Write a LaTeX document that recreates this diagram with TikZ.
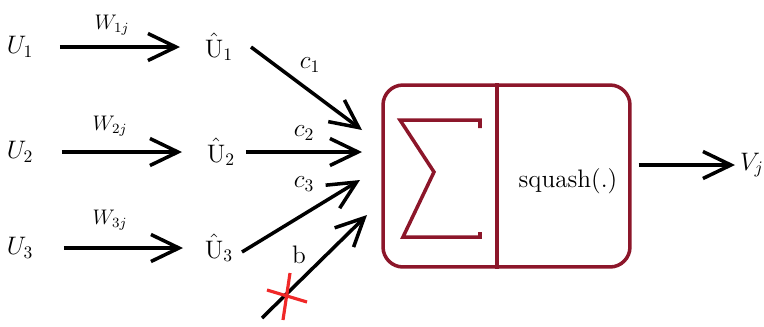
\documentclass[tikz,border=0pt]{standalone}
\usepackage{amsmath}
\usetikzlibrary{arrows.meta}
\definecolor{boxred}{RGB}{140,22,42}
\definecolor{cutred}{RGB}{240,40,40}

\begin{document}
\begin{tikzpicture}[
    x=0.02cm, y=-0.02cm,
    every node/.style={font=\Large, inner sep=1pt},
    arrow/.style={-{Straight Barb[length=5.6mm, width=5.4mm]}, line width=2pt, #1},
    arrow/.default=black,
    weight/.style={font=\large},
    unit/.style={rectangle, draw=boxred, line width=2pt, rounded corners=4mm,
                 minimum width=4.94cm, minimum height=3.64cm},
    sigma/.style={draw=boxred, line width=2pt},
    cut/.style={draw=cutred, line width=1.8pt}
]
\useasboundingbox (0,0) rectangle (764,326);

% Inputs and predictions
\node (U1) at (20,47) {$U_1$};
\node (U2) at (20,152) {$U_2$};
\node (U3) at (20,248) {$U_3$};
\node (Uh1) at (219,47) {$\hat{\mathrm{U}}_1$};
\node (Uh2) at (221,152) {$\hat{\mathrm{U}}_2$};
\node (Uh3) at (219,248) {$\hat{\mathrm{U}}_3$};

% Weight matrices
\draw[arrow, shorten <=8mm, shorten >=7.8mm] (U1.center) -- (Uh1.center);
\draw[arrow, shorten <=8.4mm, shorten >=7.8mm] (U2.center) -- (Uh2.center);
\draw[arrow, shorten <=8.8mm, shorten >=7.2mm] (U3.center) -- (Uh3.center);
\node[weight] (W1) at (112,25) {$W_{1j}$};
\node[weight] (W2) at (110,126) {$W_{2j}$};
\node[weight] (W3) at (110,220) {$W_{3j}$};

% Capsule unit
\node[unit] (box) at (506.5,176) {};
\coordinate (split) at (497,176);
\draw[sigma] (split |- box.north) -- (split |- box.south);
\draw[sigma, line join=miter] (480,128) -- (480,120) -- (400,120) -- (434,172)
    -- (403,237) -- (480,237) -- (480,232);
\node (squash) at (568,181) {squash(.)};

% Coupling coefficients
\coordinate (in1) at (362,130);
\coordinate (in2) at (362,152);
\coordinate (in3) at (360,180);
\coordinate (in4) at (367,215);
\coordinate (bstart) at (262,318);
\draw[arrow] ([xshift=0.64cm]Uh1.center) -- (in1);
\draw[arrow] ([xshift=0.5cm]Uh2.center) -- (in2);
\draw[arrow] ([xshift=0.46cm, yshift=-0.08cm]Uh3.center) -- (in3);
\draw[arrow] (bstart) -- (in4);
\node (c1) at (310,65) {$c_1$};
\node (c2) at (304,133) {$c_2$};
\node (c3) at (304,184) {$c_3$};
\node (b) at (299,255) {b};

% Removed bias
\draw[cut] (267,290) -- (307,302);
\draw[cut] (290,273) -- (283,320);

% Output
\node (Vj) at (752,165) {$V_j$};
\draw[arrow, shorten <=1.4mm, shorten >=3.4mm] (box.east |- Vj) -- (Vj.center);

\end{tikzpicture}
\end{document}
